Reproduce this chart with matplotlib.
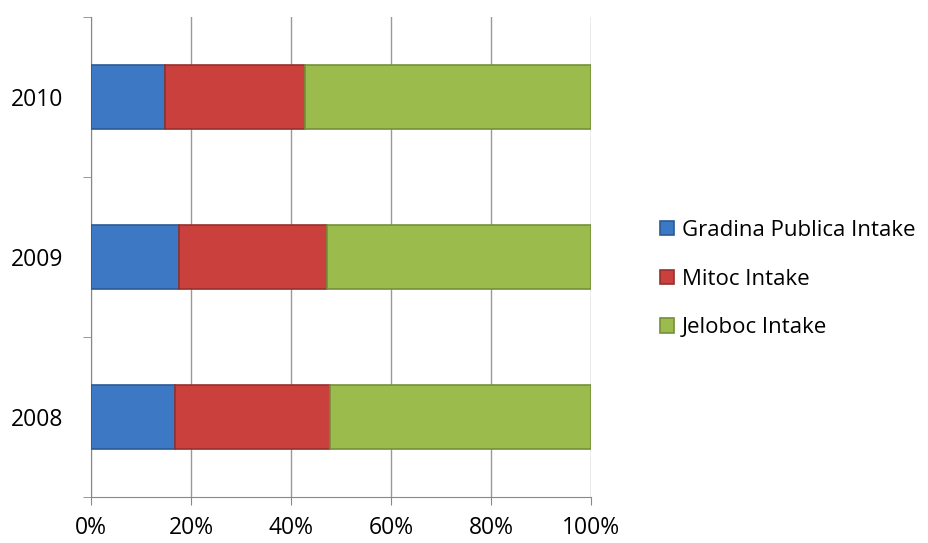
import matplotlib.pyplot as plt
import numpy as np

years = ['2008', '2009', '2010']
gradina = [16.9, 17.7, 14.9]
mitoc = [30.9, 29.6, 28.0]
jeloboc = [52.2, 52.7, 57.1]

series = [('Gradina Publica Intake', gradina, '#3c78c3', '#2a5a96'),
          ('Mitoc Intake', mitoc, '#c9403d', '#96302d'),
          ('Jeloboc Intake', jeloboc, '#9bbb4c', '#74903a')]

plt.rcParams['font.family'] = ['Open Sans', 'DejaVu Sans']

fig = plt.figure(figsize=(9.29, 5.43), dpi=100)
ax = fig.add_axes([91 / 929, 46 / 543, 500 / 929, 480 / 543])

y = np.arange(len(years))
left = np.zeros(len(years))
for name, vals, col, edge in series:
    ax.barh(y, vals, left=left, height=0.4, color=col, edgecolor=edge,
            linewidth=1.2, label=name, zorder=3)
    left += np.array(vals)

ax.set_xlim(0, 100)
ax.set_ylim(-0.5, 2.5)
ax.set_xticks(np.arange(0, 101, 20))
ax.set_xticklabels([f'{v}%' for v in range(0, 101, 20)], fontsize=16.5)
ax.set_yticks(y)
ax.set_yticklabels(years, fontsize=16.5)
ax.set_yticks([-0.5, 0.5, 1.5, 2.5], minor=True)
ax.tick_params(axis='y', which='major', length=0, pad=20)
ax.tick_params(axis='y', which='minor', length=6, color='#888888', direction='out')
ax.tick_params(axis='x', length=6, color='#888888', direction='out', pad=8)
ax.xaxis.grid(True, color='#999999', linewidth=1, zorder=0)

for s in ['top', 'right']:
    ax.spines[s].set_visible(False)
ax.spines['left'].set_color('#888888')
ax.spines['bottom'].set_color('#888888')

ax.legend(loc='center left', bbox_to_anchor=(1.099, 0.454), frameon=False,
          fontsize=16, handlelength=0.6, handleheight=0.6, handletextpad=0.35,
          labelspacing=1.25)

fig.savefig('out.png', dpi=100)
